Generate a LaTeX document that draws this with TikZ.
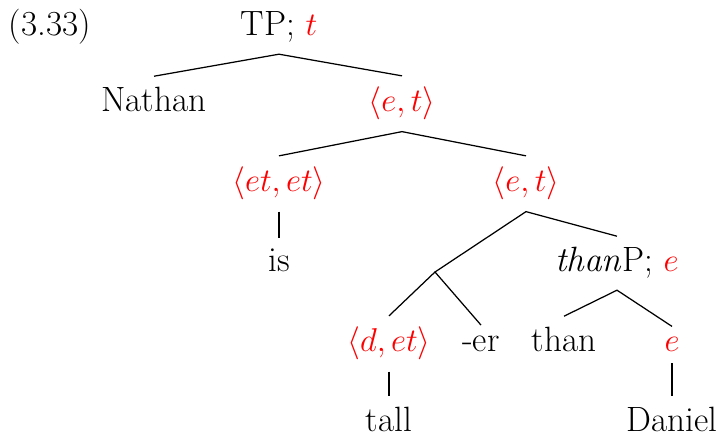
\documentclass[tikz,border=0pt]{standalone}
\usepackage{fontspec}
\setmainfont{Latin Modern Roman}
\begin{document}
\begin{tikzpicture}[x=0.5236pt,y=-0.5236pt,
  lab/.style={anchor=base, inner xsep=2pt, inner ysep=5.76pt, font=\fontsize{18.4}{22}\selectfont},
  ty/.style={lab, text=red},
  edge/.style={line width=0.65pt}]
\useasboundingbox (0,0) rectangle (719,439);
\node[lab] (num) at (50,36) {(3.33)};
\node[lab] (tp) at (279,36) {TP; \textcolor{red}{$t$}};
\node[lab] (nathan) at (154,112) {Nathan};
\node[ty] (et1) at (402,112) {$\langle e,t\rangle$};
\node[ty] (etet) at (279,192) {$\langle et,et\rangle$};
\node[ty] (et2) at (526,192) {$\langle e,t\rangle$};
\node[lab] (is) at (279,272) {is};
\coordinate (mid) at (435,272);
\node[lab] (thanp) at (617,272) {\textit{than}P; \textcolor{red}{$e$}};
\node[ty] (det) at (389,352) {$\langle d,et\rangle$};
\node[lab] (er) at (481,352) {-er};
\node[lab] (than) at (564,352) {than};
\node[ty] (e) at (672,352) {$e$};
\node[lab] (tall) at (389,432) {tall};
\node[lab] (daniel) at (672,432) {Daniel};
\draw[edge] (nathan.north) -- (tp.south) -- (et1.north);
\draw[edge] (etet.north) -- (et1.south) -- (et2.north);
\draw[edge] (etet.south) -- (is.north);
\draw[edge] (mid) -- (et2.south) -- (thanp.north);
\draw[edge] (det.north) -- (mid) -- (er.north);
\draw[edge] (than.north) -- (thanp.south) -- (e.north);
\draw[edge] (det.south) -- (tall.north);
\draw[edge] (e.south) -- (daniel.north);
\end{tikzpicture}
\end{document}
